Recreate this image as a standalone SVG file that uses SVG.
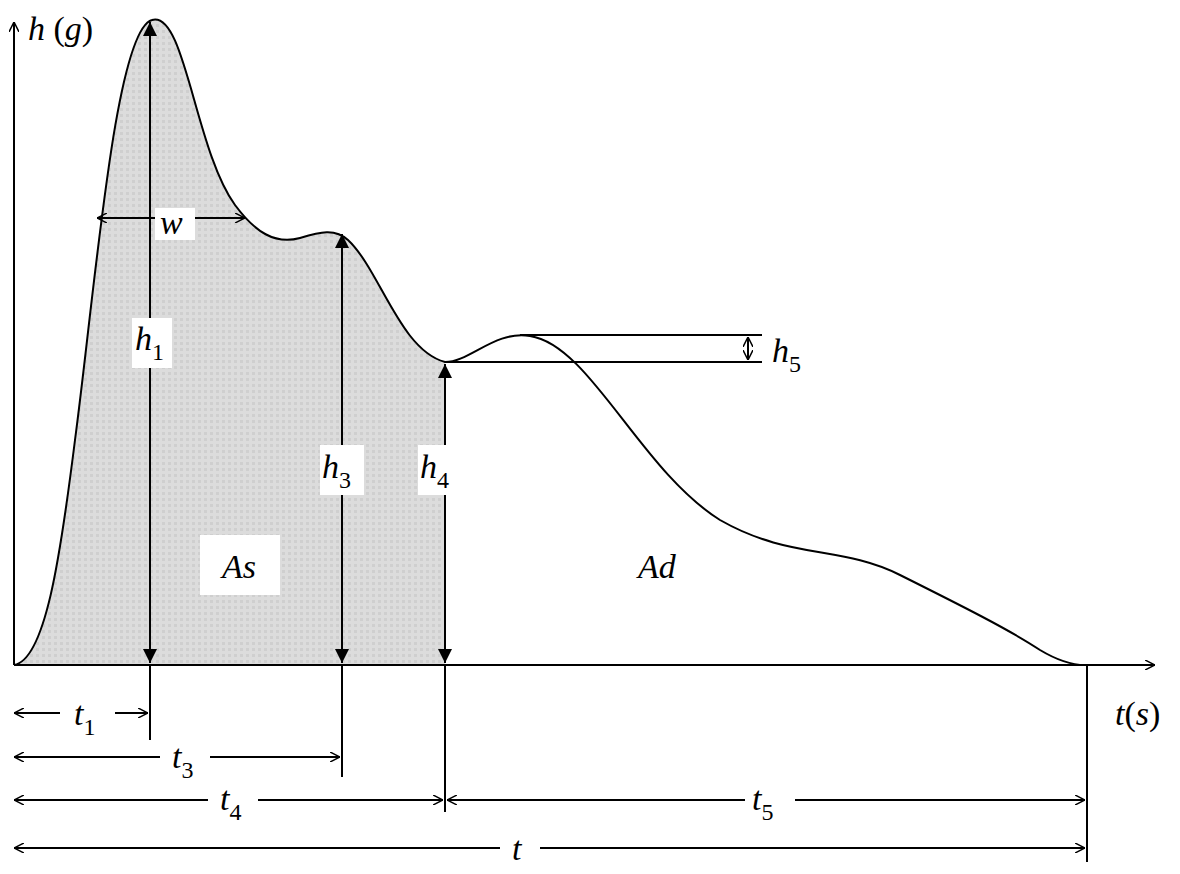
<svg xmlns="http://www.w3.org/2000/svg" width="1180" height="874" viewBox="0 0 1180 874">
<defs>
<marker id="a" viewBox="0 0 10 10" refX="10" refY="5" markerWidth="10" markerHeight="10" orient="auto-start-reverse" markerUnits="userSpaceOnUse"><path d="M0,0 L10,5 L0,10" fill="none" stroke="#000" stroke-width="1.5"/></marker>
<marker id="b" viewBox="0 0 12 12" refX="12" refY="6" markerWidth="14" markerHeight="14" orient="auto-start-reverse" markerUnits="userSpaceOnUse"><path d="M0,0 L12,6 L0,12 Z" fill="#000"/></marker>
<pattern id="dots" width="6" height="6" patternUnits="userSpaceOnUse"><rect width="6" height="6" fill="#dcdcdc"/><rect width="3" height="3" fill="#cfcfcf"/></pattern>
</defs>
<style>
text{font-family:"Liberation Serif","Times New Roman",serif;font-style:italic;font-size:34px;fill:#000}
.s{font-size:24px}
.ln{stroke:#000;stroke-width:2;fill:none}
.bg{fill:#fff}
</style>
<rect width="1180" height="874" fill="#fff"/>
<g id="area">
<path d="M14,665 C45,660 60,560 75,440 C95,290 115,30 152,20 C185,10 195,150 235,205 C255,232 275,245 300,238 C320,232 335,228 348,240 C380,270 400,350 445,362 L445,665 Z" fill="url(#dots)"/>
</g>
<g id="axes">
<line class="ln" x1="14" y1="665" x2="14" y2="22" marker-end="url(#a)"/>
<line class="ln" x1="14" y1="665" x2="1155" y2="665" marker-end="url(#a)"/>
</g>
<g id="curve">
<path class="ln" d="M14,665 C45,660 60,560 75,440 C95,290 115,30 152,20 C185,10 195,150 235,205 C255,232 275,245 300,238 C320,232 335,228 348,240 C380,270 400,350 445,362 C470,362 495,330 530,336 C590,345 640,470 720,520 C790,560 840,545 900,575 C960,605 1010,630 1040,650 C1060,662 1075,665 1085,665"/>
</g>
<g id="connectors">
<line class="ln" x1="150" y1="22" x2="150" y2="663" marker-start="url(#b)" marker-end="url(#b)"/>
<line class="ln" x1="150" y1="665" x2="150" y2="740"/>
<line class="ln" x1="342" y1="234" x2="342" y2="663" marker-start="url(#b)" marker-end="url(#b)"/>
<line class="ln" x1="342" y1="665" x2="342" y2="777"/>
<line class="ln" x1="445" y1="364" x2="445" y2="663" marker-start="url(#b)" marker-end="url(#b)"/>
<line class="ln" x1="445" y1="665" x2="445" y2="812"/>
<line class="ln" x1="1087" y1="665" x2="1087" y2="862"/>
<line class="ln" x1="97" y1="218" x2="245" y2="218" marker-start="url(#a)" marker-end="url(#a)"/>
<line class="ln" x1="520" y1="335" x2="762" y2="335"/>
<line class="ln" x1="445" y1="362" x2="762" y2="362"/>
<line class="ln" x1="748" y1="337" x2="748" y2="360" marker-start="url(#a)" marker-end="url(#a)"/>
<line class="ln" x1="14" y1="713" x2="148" y2="713" marker-start="url(#a)" marker-end="url(#a)"/>
<line class="ln" x1="14" y1="757" x2="340" y2="757" marker-start="url(#a)" marker-end="url(#a)"/>
<line class="ln" x1="14" y1="800" x2="443" y2="800" marker-start="url(#a)" marker-end="url(#a)"/>
<line class="ln" x1="447" y1="800" x2="1085" y2="800" marker-start="url(#a)" marker-end="url(#a)"/>
<line class="ln" x1="14" y1="848" x2="1085" y2="848" marker-start="url(#a)" marker-end="url(#a)"/>
</g>
<g id="labels">
<text x="28" y="40">h <tspan font-style="normal">(</tspan>g<tspan font-style="normal">)</tspan></text>
<text x="1115" y="725">t<tspan font-style="normal">(</tspan>s<tspan font-style="normal">)</tspan></text>
<rect class="bg" x="155" y="208" width="40" height="32"/><text x="160" y="234">w</text>
<rect class="bg" x="132" y="318" width="40" height="50"/><text x="135" y="350">h<tspan class="s" dy="10" font-style="normal">1</tspan></text>
<rect class="bg" x="320" y="445" width="44" height="50"/><text x="322" y="478">h<tspan class="s" dy="10" font-style="normal">3</tspan></text>
<rect class="bg" x="418" y="445" width="44" height="50"/><text x="420" y="478">h<tspan class="s" dy="10" font-style="normal">4</tspan></text>
<text x="772" y="362">h<tspan class="s" dy="10" font-style="normal">5</tspan></text>
<rect class="bg" x="200" y="535" width="80" height="60"/><text x="222" y="578">As</text>
<text x="638" y="578">Ad</text>
<rect class="bg" x="60" y="700" width="55" height="40"/><text x="74" y="725">t<tspan class="s" dy="10" font-style="normal">1</tspan></text>
<rect class="bg" x="160" y="742" width="50" height="40"/><text x="172" y="768">t<tspan class="s" dy="10" font-style="normal">3</tspan></text>
<rect class="bg" x="208" y="785" width="50" height="40"/><text x="220" y="810">t<tspan class="s" dy="10" font-style="normal">4</tspan></text>
<rect class="bg" x="745" y="785" width="50" height="40"/><text x="752" y="810">t<tspan class="s" dy="10" font-style="normal">5</tspan></text>
<rect class="bg" x="500" y="835" width="40" height="38"/><text x="512" y="860">t</text>
</g>
</svg>
